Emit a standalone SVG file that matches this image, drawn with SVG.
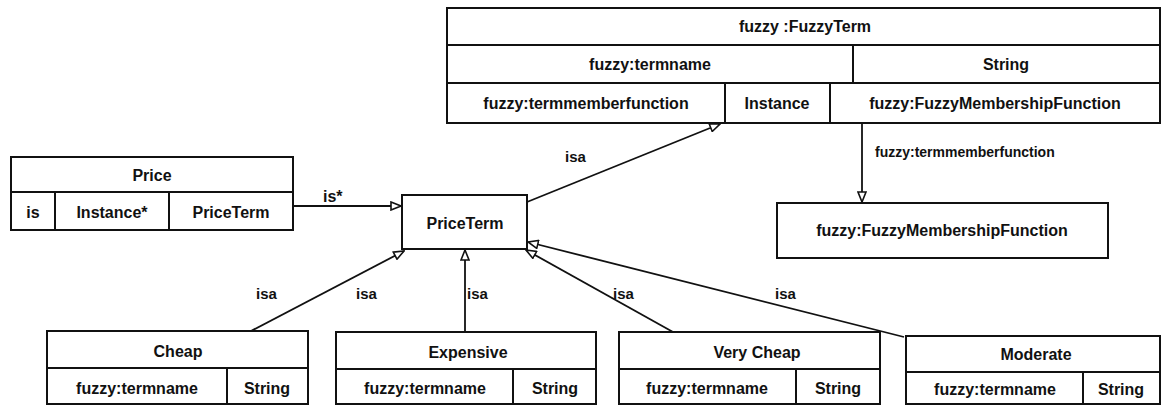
<svg xmlns="http://www.w3.org/2000/svg" width="1164" height="406" viewBox="0 0 1164 406">
  <style>
    .box { fill: #fff; stroke: #111; stroke-width: 2; }
    .div { stroke: #111; stroke-width: 2; fill: none; }
    .t { font-family: "Liberation Sans", Arial, sans-serif; font-weight: bold; font-size: 16px; fill: #111; text-anchor: middle; dominant-baseline: central; }
    .lbl { font-family: "Liberation Sans", Arial, sans-serif; font-weight: bold; font-size: 15px; fill: #111; dominant-baseline: central; }
    .edge { stroke: #111; stroke-width: 1.8; fill: none; marker-end: url(#tri); }
  </style>
  <defs>
    <marker id="tri" viewBox="0 0 12 10" refX="11" refY="5" markerWidth="12" markerHeight="10" markerUnits="userSpaceOnUse" orient="auto">
      <path d="M1,1 L11,5 L1,9 z" fill="#fff" stroke="#111" stroke-width="1.6"/>
    </marker>
  </defs>
  <rect width="1164" height="406" fill="#fff"/>

  <!-- fuzzy:FuzzyTerm class table -->
  <g id="fuzzyterm">
    <rect class="box" x="447" y="8" width="713" height="115"/>
    <path class="div" d="M447,45 H1160 M447,83 H1160 M853,45 V83 M725,83 V123 M830,83 V123"/>
    <text class="t" x="805" y="26">fuzzy :FuzzyTerm</text>
    <text class="t" x="650" y="64">fuzzy:termname</text>
    <text class="t" x="1006" y="64">String</text>
    <text class="t" x="586" y="103">fuzzy:termmemberfunction</text>
    <text class="t" x="777" y="103">Instance</text>
    <text class="t" x="995" y="103">fuzzy:FuzzyMembershipFunction</text>
  </g>

  <!-- Price class table -->
  <g id="price">
    <rect class="box" x="11" y="157" width="282" height="73"/>
    <path class="div" d="M11,192 H293 M55,192 V230 M169,192 V230"/>
    <text class="t" x="152" y="175">Price</text>
    <text class="t" x="33" y="212">is</text>
    <text class="t" x="112" y="212">Instance*</text>
    <text class="t" x="231" y="212">PriceTerm</text>
  </g>

  <!-- PriceTerm -->
  <g id="priceterm">
    <rect class="box" x="402" y="195" width="125" height="54"/>
    <text class="t" x="465" y="223">PriceTerm</text>
  </g>

  <!-- fuzzy:FuzzyMembershipFunction -->
  <g id="membership">
    <rect class="box" x="777" y="203" width="331" height="55"/>
    <text class="t" x="942" y="230">fuzzy:FuzzyMembershipFunction</text>
  </g>

  <!-- Term subclasses -->
  <g id="cheap">
    <rect class="box" x="47" y="331" width="261" height="73"/>
    <path class="div" d="M47,368 H308 M227,368 V404"/>
    <text class="t" x="178" y="351">Cheap</text>
    <text class="t" x="137" y="388">fuzzy:termname</text>
    <text class="t" x="267" y="388">String</text>
  </g>
  <g id="expensive">
    <rect class="box" x="336" y="332" width="260" height="72"/>
    <path class="div" d="M336,369 H596 M513,369 V404"/>
    <text class="t" x="468" y="352">Expensive</text>
    <text class="t" x="425" y="388">fuzzy:termname</text>
    <text class="t" x="555" y="388">String</text>
  </g>
  <g id="verycheap">
    <rect class="box" x="619" y="332" width="261" height="72"/>
    <path class="div" d="M619,369 H880 M796,369 V404"/>
    <text class="t" x="757" y="352">Very Cheap</text>
    <text class="t" x="707" y="388">fuzzy:termname</text>
    <text class="t" x="838" y="388">String</text>
  </g>
  <g id="moderate">
    <rect class="box" x="906" y="336" width="254" height="68"/>
    <path class="div" d="M906,372 H1160 M1083,372 V404"/>
    <text class="t" x="1036" y="354">Moderate</text>
    <text class="t" x="995" y="389">fuzzy:termname</text>
    <text class="t" x="1121" y="389">String</text>
  </g>

  <!-- connectors -->
  <g id="connectors">
    <path class="edge" d="M293,206 L401,206"/>
    <path class="edge" d="M527,202 L720,124"/>
    <path class="edge" d="M862,123 L862,202"/>
    <path class="edge" d="M251,331 L404,251"/>
    <path class="edge" d="M465,332 L465,250"/>
    <path class="edge" d="M673,332 L526,250"/>
    <path class="edge" d="M904,337 L528,242"/>
    <text class="lbl" x="323" y="196" style="font-size:16px">is*</text>
    <text class="lbl" x="565" y="156">isa</text>
    <text class="lbl" x="875" y="152" style="font-size:14px">fuzzy:termmemberfunction</text>
    <text class="lbl" x="256" y="293">isa</text>
    <text class="lbl" x="356" y="293">isa</text>
    <text class="lbl" x="467" y="293">isa</text>
    <text class="lbl" x="613" y="293">isa</text>
    <text class="lbl" x="775" y="293">isa</text>
  </g>
</svg>
